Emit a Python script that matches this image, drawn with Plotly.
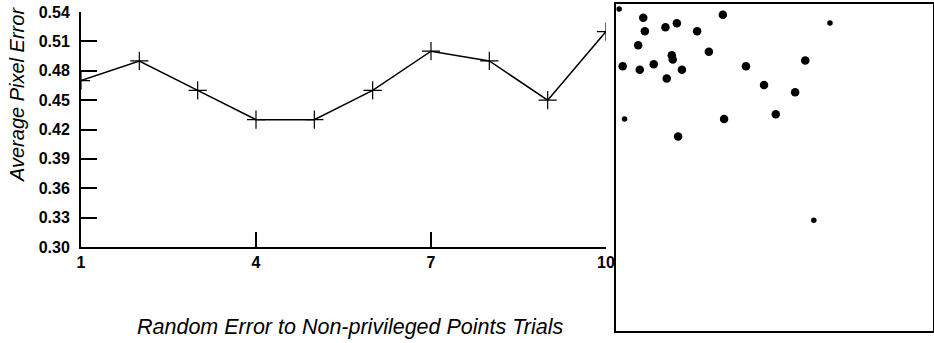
import plotly.graph_objects as go

# Left panel: line chart
trials = [1, 2, 3, 4, 5, 6, 7, 8, 9, 10]
avg_pixel_error = [0.47, 0.49, 0.46, 0.43, 0.43, 0.46, 0.50, 0.49, 0.45, 0.52]
y_ticks = [0.30, 0.33, 0.36, 0.39, 0.42, 0.45, 0.48, 0.51, 0.54]
y_tick_labels = ["0.30", "0.33", "0.36", "0.39", "0.42", "0.45", "0.48", "0.51", "0.54"]
x_ticks = [1, 4, 7, 10]
x_tick_labels = ["1", "4", "7", "10"]

# Right panel: scatter of points (unlabelled axes, 0-100 units)
scatter_x = [1.0, 8.6, 9.1, 15.6, 19.2, 25.6, 33.7, 67.5, 7.0, 17.6, 17.9, 29.3, 2.1,
             7.5, 11.9, 20.8, 16.0, 41.0, 59.7, 46.7, 56.5, 2.7, 34.1, 50.4, 19.6, 62.4]
scatter_y = [98.5, 95.8, 91.7, 92.9, 94.1, 91.7, 96.7, 94.2, 87.4, 84.3, 83.0, 85.4, 81.0,
             79.9, 81.6, 79.9, 77.2, 81.0, 82.7, 75.2, 73.0, 64.8, 64.8, 66.3, 59.5, 33.9]
scatter_small = [1, 0, 0, 0, 0, 0, 0, 1, 0, 0, 0, 0, 0,
                 0, 0, 0, 0, 0, 0, 0, 0, 1, 0, 0, 0, 1]

W, H = 934, 343
FONT = "Liberation Sans, Arial, sans-serif"


def fx(px):
    return px / W


def fy(py):
    return 1 - py / H


fig = go.Figure()
fig.add_trace(go.Scatter(
    x=trials, y=avg_pixel_error, mode="lines+markers",
    line=dict(color="black", width=1.5),
    marker=dict(symbol="cross-thin-open", size=13, line=dict(color="black", width=1.2)),
    xaxis="x", yaxis="y", showlegend=False,
))
fig.add_trace(go.Scatter(
    x=scatter_x, y=scatter_y, mode="markers",
    marker=dict(color="black", opacity=1, size=[5.5 if s else 8.5 for s in scatter_small],
                line=dict(width=0)),
    xaxis="x2", yaxis="y2", showlegend=False,
))

fig.update_layout(
    width=W, height=H,
    margin=dict(l=0, r=0, t=0, b=0, autoexpand=False),
    paper_bgcolor="white", plot_bgcolor="white",
    font=dict(family=FONT, color="black"),
    xaxis=dict(
        domain=[fx(81), fx(606)], range=[1, 10],
        tickvals=x_ticks, ticktext=x_tick_labels,
        ticks="inside", ticklen=15, tickwidth=1.5, tickcolor="black",
        showline=True, linecolor="black", linewidth=2,
        showgrid=False, zeroline=False, automargin=False,
        tickfont=dict(family=FONT, size=16, color="black", weight="bold"),
        anchor="y",
    ),
    yaxis=dict(
        domain=[fy(247), fy(12)], range=[0.30, 0.54],
        tickvals=y_ticks, ticktext=y_tick_labels,
        ticks="inside", ticklen=16, tickwidth=1.5, tickcolor="black",
        showline=True, linecolor="black", linewidth=2,
        showgrid=False, zeroline=False, automargin=False,
        tickfont=dict(family=FONT, size=16, color="black", weight="bold"),
        ticklabelstandoff=6,
        anchor="x",
    ),
    xaxis2=dict(
        domain=[fx(616), fx(933)], range=[0, 100],
        showticklabels=False, ticks="", showgrid=False, zeroline=False,
        showline=True, mirror=True, linecolor="black", linewidth=1.8,
        automargin=False, anchor="y2",
    ),
    yaxis2=dict(
        domain=[fy(331), fy(4)], range=[0, 100],
        showticklabels=False, ticks="", showgrid=False, zeroline=False,
        showline=True, mirror=True, linecolor="black", linewidth=1.8,
        automargin=False, anchor="x2",
    ),
    annotations=[
        dict(text="<i>Average Pixel Error</i>", x=fx(17), y=fy(95),
             xref="paper", yref="paper", showarrow=False, textangle=-90,
             xanchor="center", yanchor="middle",
             font=dict(family=FONT, size=20, color="black")),
        dict(text="<i>Random Error to Non-privileged Points Trials</i>", x=fx(350), y=fy(327),
             xref="paper", yref="paper", showarrow=False,
             xanchor="center", yanchor="middle",
             font=dict(family=FONT, size=21.5, color="black")),
    ],
)

fig.write_html("out.html", config={"displayModeBar": False},
               post_script="document.body.style.margin='0px';")
